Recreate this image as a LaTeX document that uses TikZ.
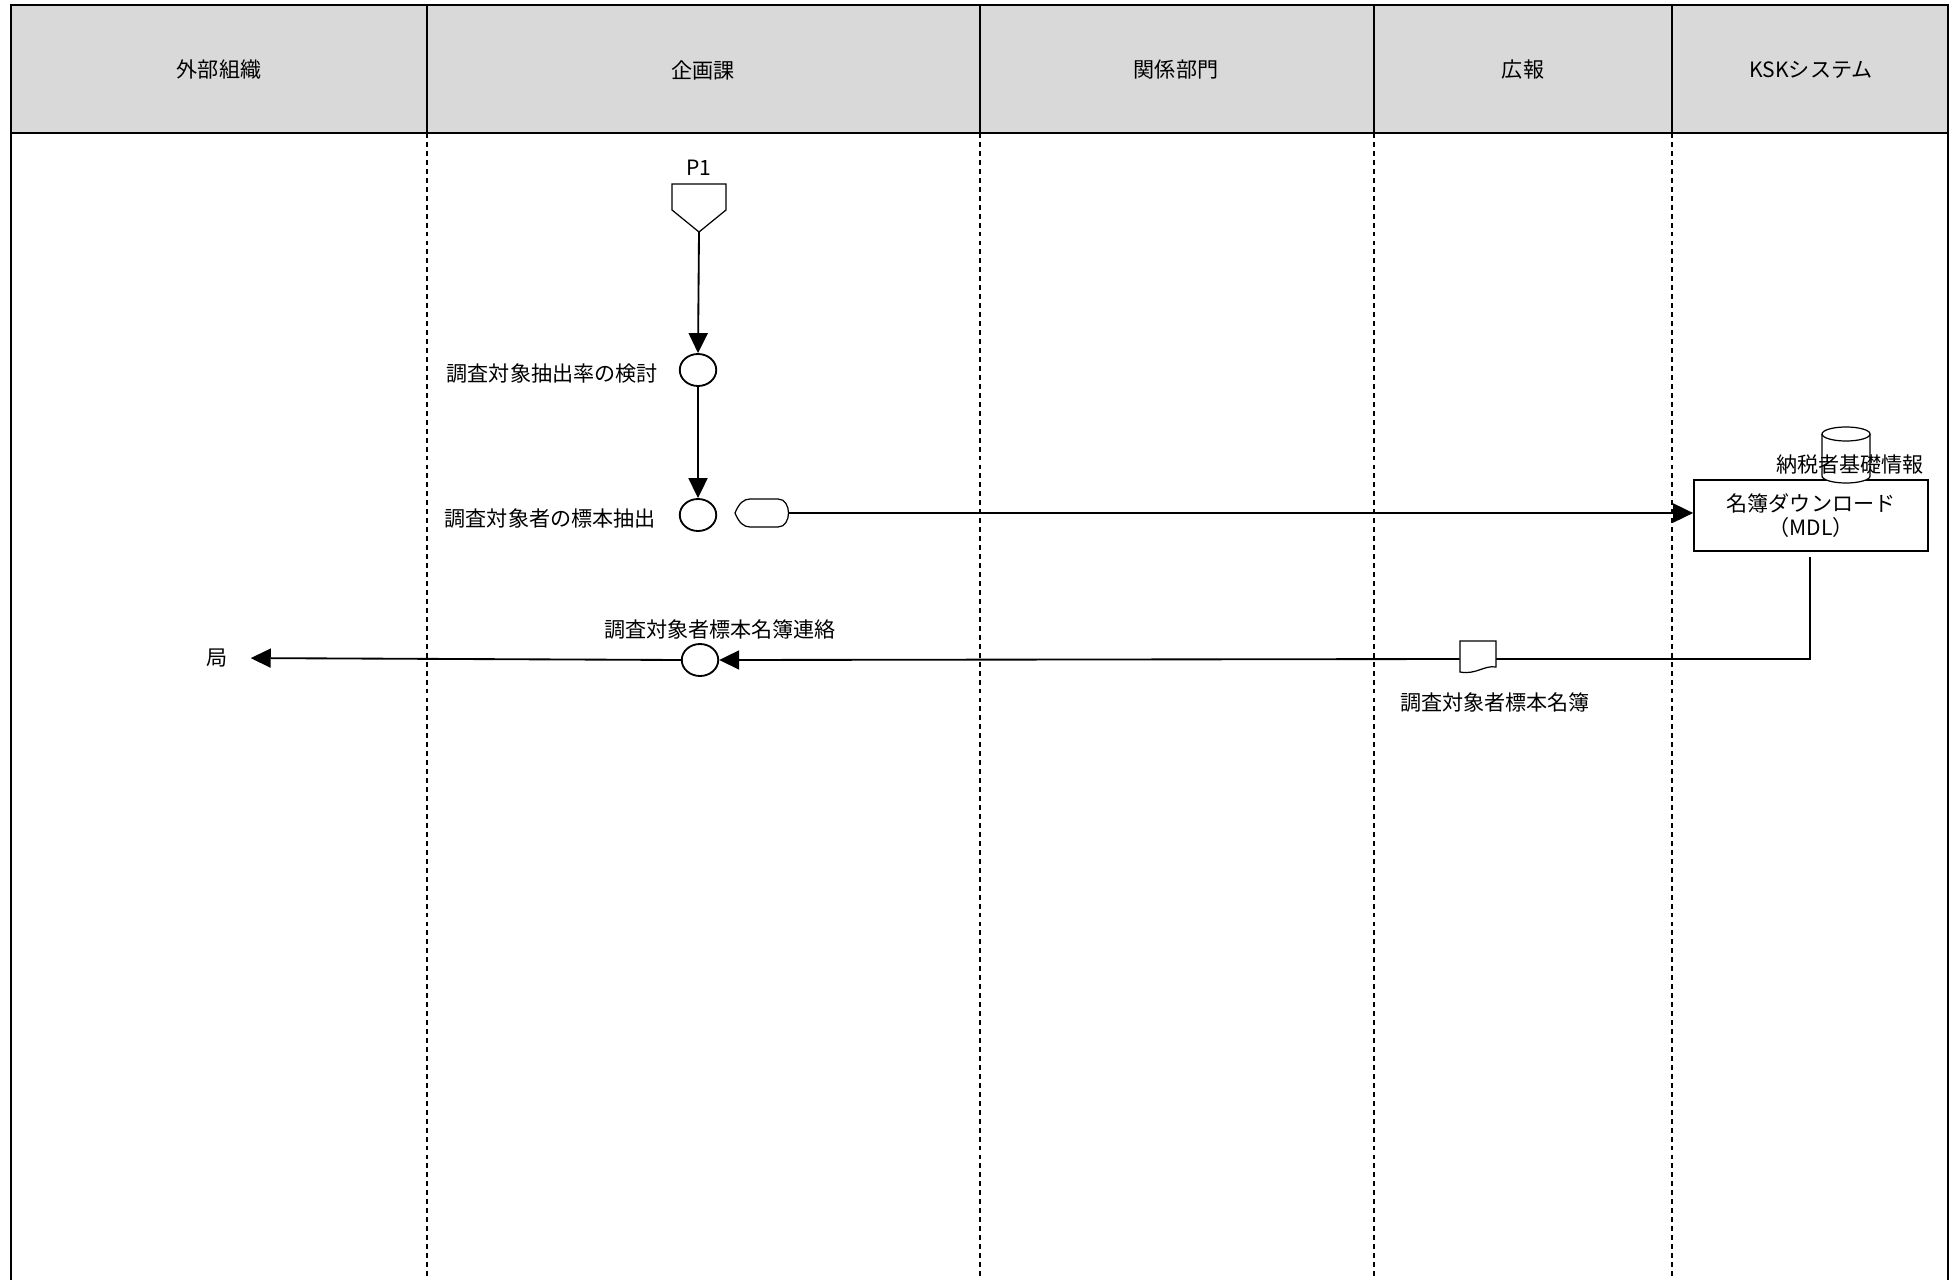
\documentclass[tikz,border=0pt]{standalone}
\usepackage{fontspec}
\setmainfont{Noto Sans CJK JP}
\usetikzlibrary{shapes.geometric,arrows.meta}
\definecolor{hdrgray}{HTML}{D9D9D9}
\begin{document}
\begin{tikzpicture}[x=0.02cm,y=-0.02cm,
  every node/.style={font=\fontsize{12}{13.5}\selectfont},
  frame/.style={line width=1.2pt},
  lanesep/.style={line width=1.05pt, dash pattern=on 2.8pt off 2.3pt},
  conn/.style={line width=1.05pt},
  arr/.style={conn, -{Triangle[width=0.38cm,length=0.4cm]}},
  circ/.style={shape=ellipse, draw, line width=1.05pt, fill=white, minimum width=0.73cm, minimum height=0.64cm, inner sep=0pt},
  shp/.style={line width=0.7pt, fill=white},
  lbl/.style={inner sep=0pt}
]
\useasboundingbox (0,0) rectangle (1959,1280);
% header
\fill[hdrgray] (11,5) rectangle (1948,133);
\draw[frame] (11,1280) -- (11,5) -- (1948,5) -- (1948,1280);
\draw[frame] (11,133) -- (1948,133);
\foreach \xx in {427,980,1374,1672} {
  \draw[frame] (\xx,5) -- (\xx,133);
  \draw[lanesep] (\xx,133) -- (\xx,1280);
}
\node (h1) at (219,70) {外部組織};
\node (h2) at (703,70) {企画課};
\node (h3) at (1176,70) {関係部門};
\node (h4) at (1523,70) {広報};
\node (h5) at (1811,70) {KSKシステム};

% P1 off-page connector
\node (p1lbl) at (699,168) {P1};
\draw[shp] (672,184) -- (726,184) -- (726,210) -- (699,232) -- (672,210) -- cycle;
\coordinate (p1tip) at (699,232);

% process circles
\node[circ] (c1) at (698,370) {};
\node[circ] (c2) at (698,515) {};
\node[circ] (c3) at (700,660) {};
\node[lbl, anchor=east] (l1) at (658,374) {調査対象抽出率の検討};
\node[lbl, anchor=east] (l2) at (656,519) {調査対象者の標本抽出};
\node[lbl] (l3) at (720,630) {調査対象者標本名簿連絡};

\draw[arr] (p1tip) -- (c1.north);
\draw[arr] (c1) -- (c2);

% display shape
\node[minimum width=1.08cm, minimum height=0.58cm, inner sep=0pt] (disp) at (762,513) {};
\draw[shp] (735,513) .. controls (739,503) and (744,499) .. (750,499) -- (778,499)
  .. controls (792,499) and (792,527) .. (778,527) -- (750,527)
  .. controls (744,527) and (739,523) .. (735,513) -- cycle;

% MDL box
\node[draw, line width=1.05pt, minimum width=4.68cm, minimum height=1.42cm, align=center, inner sep=0pt] (mdl) at (1811,515.5) {名簿ダウンロード\\（MDL）};
\draw[arr] (disp.east) -- (disp.east -| mdl.west);

% database cylinder
\filldraw[shp] (1822,434) -- (1822,476) arc[start angle=180, end angle=0, x radius=24, y radius=7] -- (1870,434);
\draw[shp] (1846,434) ellipse [x radius=24, y radius=7];
\node[lbl] (dblbl) at (1850,464) {納税者基礎情報};

% return flow
\coordinate (b1) at (1810,557);
\node[minimum width=0.72cm, minimum height=0.64cm, inner sep=0pt] (doc) at (1478,659) {};
\draw[conn] (b1) |- (doc.east);
\draw[shp] (1460,641) -- (1496,641) -- (1496,667) .. controls (1484,665) and (1476,675) .. (1460,672) -- cycle;
\node[lbl] (doclbl) at (1495,703) {調査対象者標本名簿};
\draw[arr] (doc.west) -- (c3.east);

\node (kyoku) at (217,658) {局};
\draw[arr, shorten >=0.34cm] (c3.west) -- (kyoku.east);
\end{tikzpicture}
\end{document}
